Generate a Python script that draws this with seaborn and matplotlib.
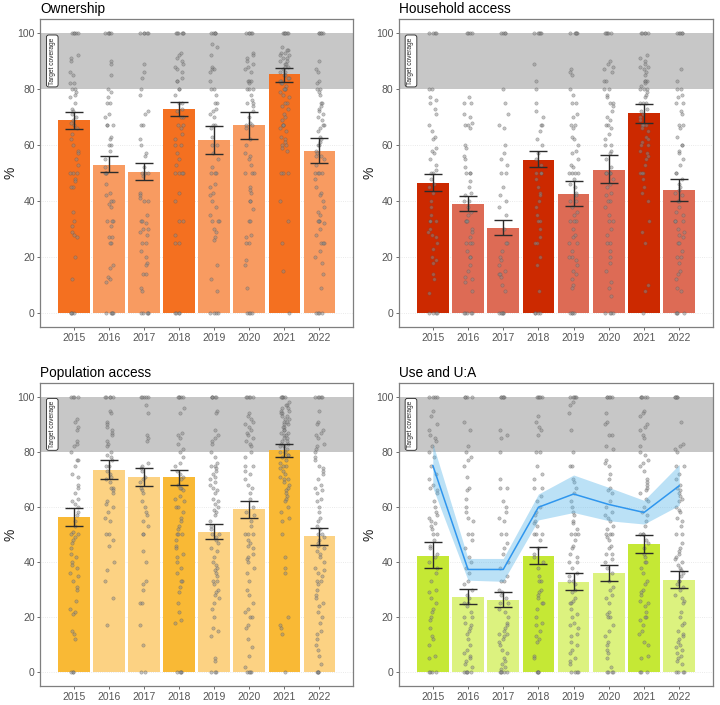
import numpy as np
import pandas as pd
import matplotlib.pyplot as plt
import seaborn as sns

years = ["2015", "2016", "2017", "2018", "2019", "2020", "2021", "2022"]

# bar means and error bar limits
own_mean = [68.8, 53.0, 50.5, 72.7, 61.8, 67.0, 85.3, 57.9]
own_lo = [65.8, 50.2, 47.4, 70.2, 56.9, 62.0, 82.6, 53.5]
own_hi = [71.8, 55.9, 53.7, 75.3, 66.7, 71.9, 87.5, 62.4]

hh_mean = [46.5, 39.0, 30.2, 54.8, 42.5, 51.2, 71.3, 43.8]
hh_lo = [43.4, 36.3, 27.8, 52.1, 38.2, 46.3, 67.9, 39.9]
hh_hi = [49.8, 41.8, 33.2, 57.8, 47.0, 56.3, 74.7, 47.7]

pop_mean = [56.2, 73.6, 70.8, 70.8, 51.0, 59.1, 80.6, 49.3]
pop_lo = [53.0, 70.2, 67.6, 68.0, 48.2, 56.1, 78.3, 46.3]
pop_hi = [59.6, 76.9, 74.1, 73.6, 53.8, 62.1, 82.7, 52.4]

use_mean = [42.2, 27.3, 26.2, 42.2, 32.9, 35.9, 46.6, 33.3]
use_lo = [37.8, 24.9, 23.6, 39.2, 29.9, 33.0, 43.4, 30.4]
use_hi = [47.1, 30.2, 29.2, 45.6, 36.1, 38.9, 49.9, 36.7]

# use:access ratio line with its ribbon
ua_mean = [75.1, 37.3, 37.3, 59.9, 64.7, 60.9, 58.0, 67.7]
ua_lo = [67.0, 33.4, 33.0, 55.3, 58.0, 55.0, 53.8, 60.6]
ua_hi = [83.0, 41.3, 41.3, 64.7, 71.6, 67.1, 62.4, 75.4]

# individual cluster values (grey points), one string per year
own_pts = [
    "100 100 100 100 100 92 91 90 86 85 82 82 80 80 79 78 77 75 73 72 71 70 69 68 67 66 64 62 60 58 57 55 53 50 50 50 48 47 45 45 36 33 31 29 28 27 20 12 0 0 0 0",
    "100 100 100 100 100 90 89 85 80 79 77 75 75 71 70 67 67 67 63 62 60 60 58 55 52 50 50 50 46 43 42 40 40 39 38 33 33 33 31 27 27 25 25 17 16 13 12 11 0 0 0 0 0",
    "100 100 100 100 100 89 86 84 80 78 72 71 67 67 62 60 57 56 52 50 50 50 49 43 42 41 40 40 35 33 33 32 30 30 29 28 25 25 22 20 18 17 14 14 9 8 0 0 0 0 0",
    "100 100 100 100 100 100 93 92 91 90 89 88 87 86 84 83 83 80 80 78 75 75 73 72 70 70 67 67 66 64 62 60 60 57 55 53 50 50 50 50 43 40 33 33 28 25 25 0 0 0 0",
    "100 100 100 100 100 96 95 92 88 87 87 86 83 80 80 78 75 75 73 72 71 70 67 67 66 63 60 60 57 55 52 50 50 50 46 45 43 42 40 38 35 33 33 33 30 29 27 26 17 12 8 0 0 0 0",
    "100 100 100 100 100 93 92 91 90 89 88 87 86 83 83 83 82 80 80 80 78 76 75 75 74 72 70 68 67 67 66 62 60 57 56 55 53 50 50 50 45 44 43 40 40 37 33 33 28 27 25 25 19 17 9 0 0 0 0",
    "100 100 100 100 100 100 95 94 94 93 93 92 92 91 91 90 90 89 89 88 88 87 86 86 85 85 84 84 83 83 82 82 81 80 80 80 79 78 77 75 75 74 73 71 70 69 67 67 67 66 65 63 62 61 60 60 59 58 50 50 50 40 33 25 15 0",
    "100 100 100 100 100 90 87 86 83 82 80 80 79 78 75 75 74 73 72 71 70 69 67 67 66 65 63 62 61 60 60 58 57 56 56 55 53 50 50 50 50 48 45 43 42 40 38 36 35 33 33 33 32 30 28 25 25 25 22 20 18 14 9 0 0 0 0",
]
hh_pts = [
    "100 100 100 100 80 80 77 76 75 73 71 67 65 63 62 59 58 57 55 53 51 50 50 48 46 45 43 40 38 35 33 33 33 30 29 28 27 25 23 20 19 18 14 12 7 0 0 0 0",
    "100 100 100 100 77 75 75 71 70 68 67 67 66 60 59 56 55 52 50 50 50 47 45 43 42 40 40 38 36 35 33 33 33 30 29 27 25 25 25 22 20 20 17 15 13 12 11 8 0 0 0 0 0",
    "100 100 100 100 80 75 71 67 66 60 57 55 53 50 50 45 42 40 38 35 30 25 25 22 20 19 17 15 14 14 13 10 8 0 0 0 0 0",
    "100 100 100 100 100 89 83 80 75 72 70 67 67 65 62 60 57 55 53 50 50 50 48 45 43 42 40 38 35 33 33 30 27 25 25 20 17 8 0 0 0 0",
    "100 100 100 100 100 87 86 85 80 78 75 75 71 70 67 67 66 63 62 60 58 57 55 53 52 50 50 50 50 48 46 45 43 42 40 40 38 36 35 33 33 33 30 28 27 25 25 22 20 20 19 17 15 14 12 10 9 0 0 0 0",
    "100 100 100 100 100 90 89 88 87 86 83 83 80 80 78 77 75 75 74 72 70 69 67 67 66 64 62 60 60 58 57 55 52 50 50 50 50 48 46 45 43 42 40 40 38 35 33 33 30 28 25 25 22 20 18 15 11 9 6 0 0 0 0",
    "100 100 100 100 100 92 91 90 89 88 88 87 86 85 83 83 83 82 81 80 80 80 79 78 77 75 75 75 73 72 71 70 69 67 67 67 66 65 63 62 61 60 60 58 57 56 55 53 50 50 50 48 45 43 40 33 29 25 10 8 0",
    "100 100 100 100 100 87 83 80 80 78 77 75 75 72 71 67 67 66 63 60 60 58 57 55 53 50 50 48 46 45 44 43 42 40 40 38 36 35 33 33 33 30 29 28 27 25 25 22 20 20 18 15 14 12 9 8 0 0 0 0",
]
pop_pts = [
    "100 100 100 100 92 91 89 88 84 83 82 80 77 77 75 72 71 68 67 65 63 62 61 60 58 57 55 53 51 50 50 49 48 47 45 43 42 40 39 38 36 35 33 31 30 26 23 22 21 15 14 12 0 0 0",
    "100 100 100 100 100 95 94 91 90 89 88 87 86 84 83 82 80 79 78 77 75 75 73 72 71 70 69 67 67 66 65 62 61 60 58 56 55 50 50 48 46 40 37 33 27 17",
    "100 100 100 100 100 97 94 86 85 84 76 75 74 73 71 70 69 67 66 65 62 60 58 57 55 53 50 50 44 40 33 32 30 25 25 17 10 0 0",
    "100 100 100 100 100 96 94 87 86 85 83 81 80 78 76 75 73 72 71 70 68 67 67 66 64 63 62 60 60 58 56 55 53 52 50 50 50 48 46 45 43 42 40 38 36 33 33 31 29 25 22 19 18 0 0 0 0",
    "100 100 100 100 100 95 94 88 86 85 84 83 80 78 76 75 75 74 73 72 71 70 69 68 67 66 65 63 62 61 60 59 58 57 55 53 52 50 50 49 48 47 45 44 42 40 39 38 37 36 35 33 33 32 30 29 28 27 25 23 20 16 15 13 5 4 0 0 0",
    "100 100 100 100 100 94 93 92 91 90 89 88 87 86 85 84 83 82 80 78 75 75 73 72 70 68 67 65 63 60 58 57 55 53 50 50 50 48 47 46 45 43 42 41 40 38 36 33 30 28 25 23 22 20 20 17 16 12 9 6 2 0 0 0 0",
    "100 100 100 100 100 98 97 97 96 96 95 95 94 94 93 93 92 92 91 91 90 90 89 89 88 88 87 87 86 86 85 85 84 84 83 83 82 82 81 80 80 79 79 78 77 76 75 75 74 73 72 71 70 70 69 68 67 66 65 64 63 62 60 58 56 55 50 42 38 36 20 17 16 14 0",
    "100 100 100 100 100 95 91 90 88 87 86 85 83 82 81 80 78 77 75 74 73 72 70 68 67 66 65 63 62 60 58 56 55 53 52 50 50 49 48 47 46 45 44 43 42 40 38 37 36 35 33 33 32 30 28 27 25 24 22 20 18 15 14 12 10 8 6 3 0 0 0 0",
]
use_pts = [
    "100 100 100 100 95 93 90 88 86 85 84 82 80 78 75 72 70 68 67 66 65 62 60 58 57 56 55 54 53 52 50 50 48 46 45 43 42 40 38 36 33 30 29 27 25 23 22 20 19 16 13 12 10 6 5 0 0 0 0",
    "100 100 100 100 91 88 82 80 78 77 75 71 67 66 63 60 58 56 55 50 50 48 45 42 40 38 36 33 32 30 28 27 25 25 24 22 20 20 18 17 16 15 14 12 10 8 7 6 5 4 3 2 0 0 0 0 0",
    "100 100 100 100 100 88 86 85 80 70 67 67 62 60 58 56 55 50 50 47 45 43 40 38 35 33 33 30 29 28 27 25 25 23 22 20 18 17 16 15 14 14 13 12 11 10 8 7 5 4 3 2 1 0 0 0 0 0",
    "100 100 100 100 100 93 91 89 88 86 80 80 75 72 70 67 67 64 62 60 58 57 55 54 53 50 50 50 48 45 43 42 40 38 35 33 33 30 29 28 27 25 25 23 20 18 17 15 13 12 11 6 5 0 0 0 0",
    "100 100 100 100 100 98 97 94 88 80 75 75 70 69 67 65 62 60 58 57 55 54 52 50 50 50 48 46 45 43 42 40 40 38 36 35 33 33 32 30 29 27 26 25 25 23 21 20 18 17 16 14 13 11 10 8 7 5 4 3 0 0 0 0",
    "100 100 100 100 100 94 91 90 86 86 82 81 77 76 75 72 70 67 66 65 62 60 58 57 56 55 53 52 50 50 50 49 48 46 45 43 43 41 40 38 36 33 31 30 28 27 25 22 21 20 20 17 15 13 11 10 8 7 5 2 0 0 0 0",
    "100 100 100 100 100 95 94 93 90 89 88 86 85 82 80 79 77 76 75 73 70 69 68 67 66 65 63 62 60 58 57 55 53 50 50 50 48 47 45 43 42 40 40 38 36 33 32 30 29 28 26 25 24 22 20 20 19 17 15 14 11 10 6 5 0 0 0",
    "100 100 100 100 100 91 83 82 81 80 75 75 72 70 68 67 66 65 64 63 62 60 59 58 56 55 53 50 50 47 45 44 43 42 41 40 39 38 37 36 35 33 33 32 31 30 28 27 26 25 22 20 18 17 15 14 13 12 11 10 9 8 7 6 5 4 3 0 0 0 0",
]

sns.set_theme(style="white")
plt.rcParams['font.family'] = ['Liberation Sans', 'DejaVu Sans']
np.random.seed(3)


def draw_panel(ax, title, means, lo, hi, pts, dark, light):
    pal = {}
    for i, y in enumerate(years):
        pal[y] = dark if i % 3 == 0 else light

    ax.axhspan(80, 100, color='#C7C7C7', lw=0, zorder=0.6)
    for g in [0, 20, 40, 60]:
        ax.axhline(g, color='#E3E3E3', lw=0.6, ls=':', zorder=0.5)

    sns.barplot(x=years, y=means, hue=years, palette=pal, order=years,
                width=0.9, saturation=1, errorbar=None, legend=False,
                linewidth=0, ax=ax, zorder=1)

    rows = []
    for y, s in zip(years, pts):
        for v in s.split():
            rows.append((y, float(v)))
    df = pd.DataFrame(rows, columns=['year', 'value'])
    sns.stripplot(data=df, x='year', y='value', order=years, jitter=0.13,
                  color='#8A8A8A', alpha=0.5, size=2.4, linewidth=0.35,
                  edgecolor='#555555', ax=ax, zorder=3)

    m = np.array(means)
    err = [m - np.array(lo), np.array(hi) - m]
    ax.errorbar(np.arange(len(years)), m, yerr=err, fmt='none',
                ecolor='#2B2B2B', elinewidth=1, capsize=6.5, capthick=1,
                zorder=4)

    ax.text(-0.62, 90, "Target coverage", rotation=90, fontsize=4.8,
            ha='center', va='center', zorder=5,
            bbox=dict(boxstyle='round,pad=0.35', fc='white', ec='#222222', lw=0.6))

    ax.set_xlim(-0.96, 7.96)
    ax.set_ylim(-5, 105)
    ax.set_yticks([0, 20, 40, 60, 80, 100])
    ax.set_xticks(range(len(years)))
    ax.set_xticklabels(years)
    ax.set_xlabel('')
    ax.set_ylabel('%', fontsize=10, color='#222222', labelpad=0)
    ax.set_title(title, loc='left', fontsize=9.8, color='black', pad=4)
    ax.tick_params(axis='both', labelsize=7.5, colors='#555555', length=2.5,
                   width=0.6, bottom=True, left=True, pad=1.5)
    ax.grid(False)
    for sp in ax.spines.values():
        sp.set_color('#7F7F7F')
        sp.set_linewidth(0.9)


fig = plt.figure(figsize=(7.2, 7.05), dpi=100)
ax1 = fig.add_axes([0.0560, 0.5362, 0.4343, 0.4369])
ax2 = fig.add_axes([0.5542, 0.5362, 0.4361, 0.4369])
ax3 = fig.add_axes([0.0560, 0.0270, 0.4343, 0.4297])
ax4 = fig.add_axes([0.5542, 0.0270, 0.4361, 0.4297])

draw_panel(ax1, "Ownership", own_mean, own_lo, own_hi, own_pts, '#F47020', '#F89B61')
draw_panel(ax2, "Household access", hh_mean, hh_lo, hh_hi, hh_pts, '#CC2900', '#DD6B55')
draw_panel(ax3, "Population access", pop_mean, pop_lo, pop_hi, pop_pts, '#F9B935', '#FCD283')
draw_panel(ax4, "Use and U:A", use_mean, use_lo, use_hi, use_pts, '#C5E835', '#DCF27F')

# use:access ratio line
xs = np.arange(len(years))
ax4.fill_between(xs, ua_lo, ua_hi, color='#56B4E9', alpha=0.4, lw=0, zorder=5)
sns.lineplot(x=xs, y=ua_mean, color='#2F96EE', lw=1.1, ax=ax4, zorder=6)
ax4.set_xlim(-0.96, 7.96)
ax4.set_xticks(range(len(years)))
ax4.set_xticklabels(years)

fig.savefig("out.png", dpi=100)
